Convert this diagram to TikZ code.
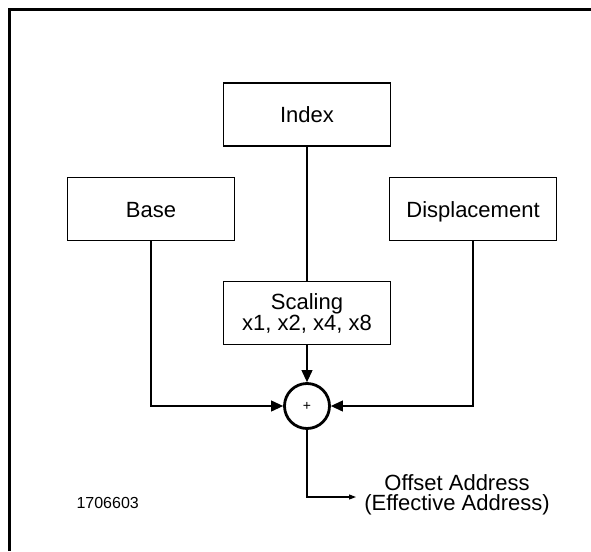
\documentclass[tikz,border=0pt]{standalone}
\usepackage{fontspec}
\setmainfont{Liberation Sans}
\usetikzlibrary{arrows.meta}
\begin{document}
\begin{tikzpicture}[x=1pt,y=-1pt,
  lbl/.style={font=\fontsize{22}{25}\selectfont},
  box/.style={draw,line width=1.1pt,minimum width=167pt,minimum height=63pt,inner sep=0pt,lbl,align=center},
  onebox/.style={box,text height=20pt,text depth=4pt},
  conn/.style={line width=1.1pt},
  bigtip/.style={-{Triangle[length=12pt,width=11pt]}},
  smalltip/.style={-{Triangle[length=7pt,width=5pt]}}]
\useasboundingbox (0,0) rectangle (591,551);
\draw[line width=3pt] (9,551) -- (9,10) -- (591,10);
\node[onebox] (index) at (307,114.5) {Index};
\node[onebox] (base) at (151,209) {Base};
\node[onebox] (disp) at (473,209) {Displacement};
\node[box] (scale) at (307,313) {Scaling\\[-4pt]x1, x2, x4, x8};
\node[draw,circle,line width=2.8pt,minimum size=45pt,inner sep=0pt] (sum) at (307,406) {\fontsize{14}{16}\selectfont +};
\draw[conn] (index) -- (scale);
\draw[conn,bigtip] (scale) -- (sum);
\draw[conn,bigtip] (base.south) |- (sum.west);
\draw[conn,bigtip] (disp.south) |- (sum.east);
\coordinate (out) at (356,497);
\draw[conn,smalltip] (sum.south) |- (out);
\node[lbl,align=center,anchor=center] (offset) at (457,495) {Offset Address\\[-5pt](Effective Address)};
\node[font=\fontsize{16}{18}\selectfont,anchor=west] (fig) at (73,503) {1706603};
\end{tikzpicture}
\end{document}
